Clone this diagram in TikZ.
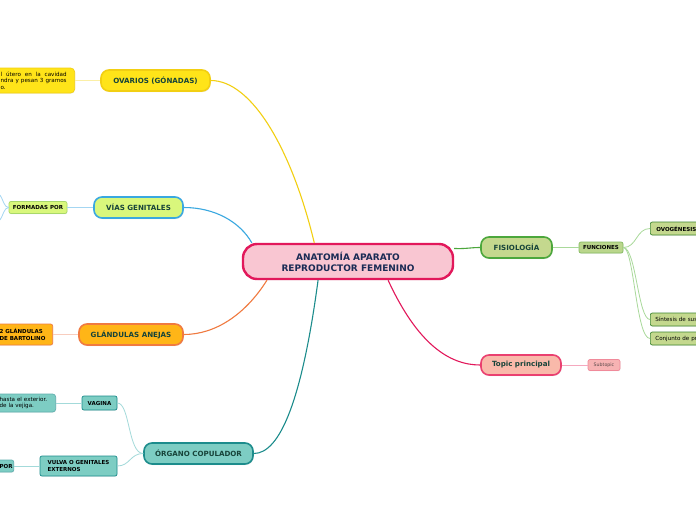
\documentclass[tikz,border=0pt]{standalone}
\usepackage{fontspec}
\setmainfont{DejaVu Sans}
\usetikzlibrary{shadows}

\definecolor{cefill}{HTML}{F9C6D2}
\definecolor{celine}{HTML}{E2185B}
\definecolor{cetext}{HTML}{1A2B55}
\definecolor{tptext}{HTML}{17443A}
\definecolor{ovfill}{HTML}{FFE419}
\definecolor{ovline}{HTML}{F2CF12}
\definecolor{ovlink}{HTML}{FBEFA6}
\definecolor{vgfill}{HTML}{D9F77C}
\definecolor{vgline}{HTML}{3AA8E0}
\definecolor{fpline}{HTML}{A9D86A}
\definecolor{vglink}{HTML}{A4D6F2}
\definecolor{glfill}{HTML}{FFB517}
\definecolor{glline}{HTML}{F07A40}
\definecolor{gllink}{HTML}{F8CDBE}
\definecolor{ocfill}{HTML}{7DCDC3}
\definecolor{ocline}{HTML}{1C8C8C}
\definecolor{oclink}{HTML}{A3DADA}
\definecolor{fsfill}{HTML}{C4D88E}
\definecolor{fsline}{HTML}{4CA73C}
\definecolor{fnfill}{HTML}{BAD68C}
\definecolor{fnline}{HTML}{86BC62}
\definecolor{fslink}{HTML}{A9D99A}
\definecolor{tpfill}{HTML}{F9B9AA}
\definecolor{tpline}{HTML}{EA4070}
\definecolor{stfill}{HTML}{F7B3B3}
\definecolor{stline}{HTML}{F08A9A}
\definecolor{sttext}{HTML}{5A4A4A}
\definecolor{tplink}{HTML}{F5A8BE}

\tikzset{
	centre/.style={rounded corners=14pt, line width=2.4pt, fill=cefill, draw=celine, text=cetext, align=center,
		font=\bfseries\fontsize{9}{11}\selectfont, minimum width=210, minimum height=35, inner sep=0pt,
		drop shadow={opacity=0.2, shadow xshift=0.6pt, shadow yshift=-1pt}},
	topic/.style={rounded corners=8pt, line width=1.6pt, text=tptext, font=\bfseries\fontsize{7.1}{8.5}\selectfont,
		minimum height=21, inner sep=0pt, drop shadow={opacity=0.2, shadow xshift=0.6pt, shadow yshift=-1pt}},
	sub/.style={rounded corners=2pt, line width=0.7pt, font=\bfseries\fontsize{5.5}{6.6}\selectfont,
		minimum height=12, inner sep=0pt, drop shadow={opacity=0.15, shadow xshift=0.4pt, shadow yshift=-0.7pt}},
	leaf/.style={sub, align=left, inner ysep=0pt},
	notetext/.style={font=\fontsize{5.6}{6.6}\selectfont},
	branch/.style={line width=1.1pt},
	twig/.style={line width=0.8pt}
}

\begin{document}
\begin{tikzpicture}[x=1pt, y=-1pt]
	\useasboundingbox[fill=white] (0,0) rectangle (696,520);

	\node[centre] (anatomia) at (348,261.5) {ANATOMÍA APARATO\\REPRODUCTOR FEMENINO};

	\node[topic, fill=ovfill, draw=ovline, minimum width=109] (ovarios) at (155.5,80.5) {OVARIOS (GÓNADAS)};
	\node[leaf, notetext, fill=ovfill, draw=ovline, rounded corners=4pt, text width=66, align=justify, inner xsep=8, minimum height=25, anchor=east] (ovnote) at (75,80.5) {l útero en la cavidad\linebreak ndra y pesan 3 gramos\linebreak o.};
	\draw[ovlink, twig] (ovnote) -- (ovarios);
	\draw[ovline, branch] (anatomia.151) .. controls (292,150) and (252,80.5) .. (ovarios.east);

	\node[topic, fill=vgfill, draw=vgline, minimum width=89] (vias) at (138.5,207.5) {VÍAS GENITALES};
	\node[sub, fill=vgfill, draw=fpline, minimum width=58] (formadas) at (38,207.5) {FORMADAS POR};
	\coordinate (fp up) at (0,195);
	\coordinate (fp down) at (0,220);
	\draw[vglink, twig] (formadas) -- (vias);
	\draw[vglink, twig] (formadas.west) .. controls (4,207.5) and (3,199) .. (fp up);
	\draw[vglink, twig] (formadas.west) .. controls (4,207.5) and (3,216) .. (fp down);
	\draw[vgline, branch] (anatomia.169) .. controls (240,222) and (215,207.5) .. (vias.east);

	\node[topic, fill=glfill, draw=glline, minimum width=104] (glandulas) at (131,334.5) {GLÁNDULAS ANEJAS};
	\node[leaf, fill=glfill, draw=glline, text width=48, inner xsep=5, minimum height=21, anchor=east] (bartolino) at (53,334.5) {2 GLÁNDULAS\\DE BARTOLINO};
	\draw[gllink, twig] (bartolino) -- (glandulas);
	\draw[glline, branch] (anatomia.193) .. controls (245,315) and (215,334.5) .. (glandulas.east);

	\node[topic, fill=ocfill, draw=ocline, minimum width=109] (organo) at (198.5,453.5) {ÓRGANO COPULADOR};
	\node[sub, fill=ocfill, draw=ocline, minimum width=35, minimum height=14] (vagina) at (99.5,403) {VAGINA};
	\node[leaf, notetext, fill=ocfill, draw=ocline!70, rounded corners=3pt, text width=49, inner xsep=7, minimum height=18, anchor=east] (vaginanote) at (56,403) {hasta el exterior.\\de la vejiga.};
	\node[leaf, fill=ocfill, draw=ocline, minimum width=77, minimum height=20] (vulva) at (78.5,466) {VULVA O GENITALES\\EXTERNOS};
	\node[leaf, fill=ocfill, draw=ocline!70, text width=12.5, inner xsep=1.5, anchor=east] (por) at (14,466) {POR};
	\draw[oclink, twig] (vaginanote) -- (vagina);
	\draw[oclink, twig] (por) -- (vulva);
	\draw[oclink, twig] (organo.west) .. controls (128,453.5) and (130,403) .. (vagina.east);
	\draw[oclink, twig] (organo.west) .. controls (130,453.5) and (130,466) .. (vulva.east);
	\draw[ocline, branch] (anatomia.212) .. controls (302,400) and (280,453.5) .. (organo.east);

	\node[topic, fill=fsfill, draw=fsline, minimum width=71] (fisiologia) at (516.5,247.5) {FISIOLOGÍA};
	\node[sub, fill=fnfill, draw=fnline, minimum width=44, minimum height=11] (funciones) at (601,247.5) {FUNCIONES};
	\node[leaf, fill=fsfill, draw=fsline!80!black, text width=60, inner xsep=6, minimum height=13, anchor=west] (ovogenesis) at (650,228.5) {OVOGÉNESIS};
	\node[leaf, notetext, fill=fsfill, draw=fsline!80!black, text width=60, inner xsep=5, minimum height=13, anchor=west] (sintesis) at (650,319.5) {Síntesis de sus};
	\node[leaf, notetext, fill=fsfill, draw=fsline!80!black, text width=60, inner xsep=5, minimum height=13, anchor=west] (conjunto) at (650,338.5) {Conjunto de pr};
	\draw[fslink, twig] (fisiologia) -- (funciones);
	\draw[fslink, twig] (funciones.east) .. controls (637,247.5) and (636,228.5) .. (ovogenesis.west);
	\draw[fslink, twig] (funciones.east) .. controls (636,247.5) and (638,319.5) .. (sintesis.west);
	\draw[fslink, twig] (funciones.east) .. controls (634,247.5) and (636,338.5) .. (conjunto.west);
	\draw[fsline, branch] (anatomia.7) .. controls (466,249) and (470,247.5) .. (fisiologia.west);

	\node[topic, fill=tpfill, draw=tpline, minimum width=80, minimum height=20] (topic) at (521,365) {Topic principal};
	\node[sub, fill=stfill, draw=stline, text=sttext, minimum width=32, minimum height=11, font=\fontsize{4.7}{5.8}\selectfont] (subtopic) at (604,365) {Subtopic};
	\draw[tplink, twig] (topic) -- (subtopic);
	\draw[celine, branch] (anatomia.335) .. controls (418,345) and (450,365) .. (topic.west);
\end{tikzpicture}
\end{document}
